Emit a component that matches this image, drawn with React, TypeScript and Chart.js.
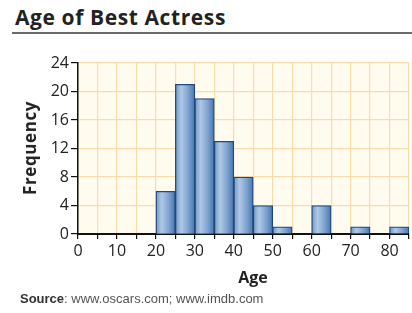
import React, { useEffect, useRef } from "react";
import { Chart, registerables } from "chart.js";

Chart.register(...registerables);

const binStarts = [0, 5, 10, 15, 20, 25, 30, 35, 40, 45, 50, 55, 60, 65, 70, 75, 80];
const frequencies = [0, 0, 0, 0, 6, 21, 19, 13, 8, 4, 1, 0, 4, 0, 1, 0, 1];
const binWidth = 5;
const xMin = 0;
const xMax = 85;
const yMax = 24;
const yStep = 4;

const titleText = "Age of Best Actress";
const xTitle = "Age";
const yTitle = "Frequency";
const sourceLabel = "Source";
const sourceText = ": www.oscars.com; www.imdb.com";

const plotBg = {
  id: "plotBg",
  beforeDraw(chart: any) {
    const { ctx, chartArea } = chart;
    ctx.save();
    ctx.fillStyle = "#fffbef";
    ctx.fillRect(chartArea.left, chartArea.top, chartArea.right - chartArea.left, chartArea.bottom - chartArea.top);
    ctx.restore();
  },
};

export default function App() {
  const ref = useRef<HTMLCanvasElement>(null);

  useEffect(() => {
    const canvas = ref.current!;
    const data = binStarts.map((s, i) => ({
      x: s + binWidth / 2,
      y: frequencies[i] === 0 ? null : frequencies[i],
    }));
    const chart = new Chart(canvas, {
      type: "bar",
      data: {
        datasets: [
          {
            data: data as any,
            barPercentage: 1,
            categoryPercentage: 1,
            borderColor: "#23497a",
            borderWidth: 1.3,
            borderSkipped: "start",
            backgroundColor: (ctx: any) => {
              const c = ctx.chart;
              const xs = c.scales && c.scales.x;
              const raw = ctx.raw;
              if (!xs || !raw) return "#6d96c4";
              const l = xs.getPixelForValue(raw.x - binWidth / 2);
              const r = xs.getPixelForValue(raw.x + binWidth / 2);
              if (!isFinite(l) || !isFinite(r) || l === r) return "#6d96c4";
              const g = c.ctx.createLinearGradient(l, 0, r, 0);
              g.addColorStop(0, "#6f98c9");
              g.addColorStop(0.3, "#b0c8e5");
              g.addColorStop(0.65, "#7fa4d0");
              g.addColorStop(1, "#4676b2");
              return g;
            },
          },
        ],
      },
      options: {
        animation: false,
        responsive: false,
        maintainAspectRatio: false,
        devicePixelRatio: 1,
        layout: { padding: { left: 0, right: 2, top: 63, bottom: 49 } },
        plugins: { legend: { display: false }, tooltip: { enabled: false }, title: { display: false } },
        scales: {
          x: {
            type: "linear",
            min: xMin,
            max: xMax,
            offset: false,
            grid: {
              offset: false,
              color: "#f8dcaa",
              lineWidth: 1.2,
              tickColor: "#111",
              tickLength: 5,
              drawTicks: true,
            },
            border: { color: "#111", width: 2 },
            ticks: {
              stepSize: 5,
              autoSkip: false,
              maxRotation: 0,
              padding: 3,
              color: "#222",
              font: { family: "'Open Sans', sans-serif", size: 16 },
              callback: (v: any) => (Number(v) % 10 === 0 && Number(v) < xMax ? String(v) : ""),
            },
            afterFit: (s: any) => {
              s.height = 30;
            },
          },
          y: {
            min: 0,
            max: yMax,
            grid: {
              color: "#f8dcaa",
              lineWidth: 1.2,
              tickColor: "#111",
              tickLength: 7,
            },
            border: { color: "#111", width: 1.5 },
            ticks: {
              stepSize: yStep,
              padding: 2,
              color: "#222",
              font: { family: "'Open Sans', sans-serif", size: 16 },
            },
            afterFit: (s: any) => {
              s.width = 78;
            },
          },
        },
      },
      plugins: [plotBg],
    });
    return () => chart.destroy();
  }, []);

  return (
    <div style={{ position: "absolute", left: 0, top: 0, width: 412, height: 313, background: "#fff", overflow: "hidden" }}>
      <div
        style={{
          position: "absolute",
          left: 15,
          top: 7,
          fontFamily: "'Open Sans', sans-serif",
          fontWeight: 700,
          fontSize: 21,
          letterSpacing: 0.6,
          lineHeight: "21px",
          color: "#222",
          whiteSpace: "nowrap",
        }}
      >
        {titleText}
      </div>
      <div style={{ position: "absolute", left: 12, top: 32, width: 400, height: 2, background: "#6b6b6b" }} />
      <canvas ref={ref} width={412} height={313} style={{ position: "absolute", left: 0, top: 0, width: 412, height: 313 }} />
      <div
        style={{
          position: "absolute",
          left: 30,
          top: 148,
          transform: "translate(-50%, -50%) rotate(-90deg)",
          fontFamily: "'Open Sans', sans-serif",
          fontWeight: 700,
          fontSize: 17,
          letterSpacing: 0.6,
          lineHeight: "18px",
          color: "#222",
          whiteSpace: "nowrap",
        }}
      >
        {yTitle}
      </div>
      <div
        style={{
          position: "absolute",
          left: 253,
          top: 277,
          transform: "translate(-50%, -50%)",
          fontFamily: "'Open Sans', sans-serif",
          fontWeight: 700,
          fontSize: 16,
          lineHeight: "18px",
          color: "#222",
          whiteSpace: "nowrap",
        }}
      >
        {xTitle}
      </div>
      <div
        style={{
          position: "absolute",
          left: 20,
          top: 299,
          transform: "translateY(-50%)",
          fontFamily: "'Liberation Sans Narrow', 'Liberation Sans', sans-serif",
          fontSize: 13,
          lineHeight: "14px",
          color: "#555",
          whiteSpace: "nowrap",
        }}
      >
        <span style={{ fontWeight: 700, color: "#333" }}>{sourceLabel}</span>
        {sourceText}
      </div>
    </div>
  );
}
